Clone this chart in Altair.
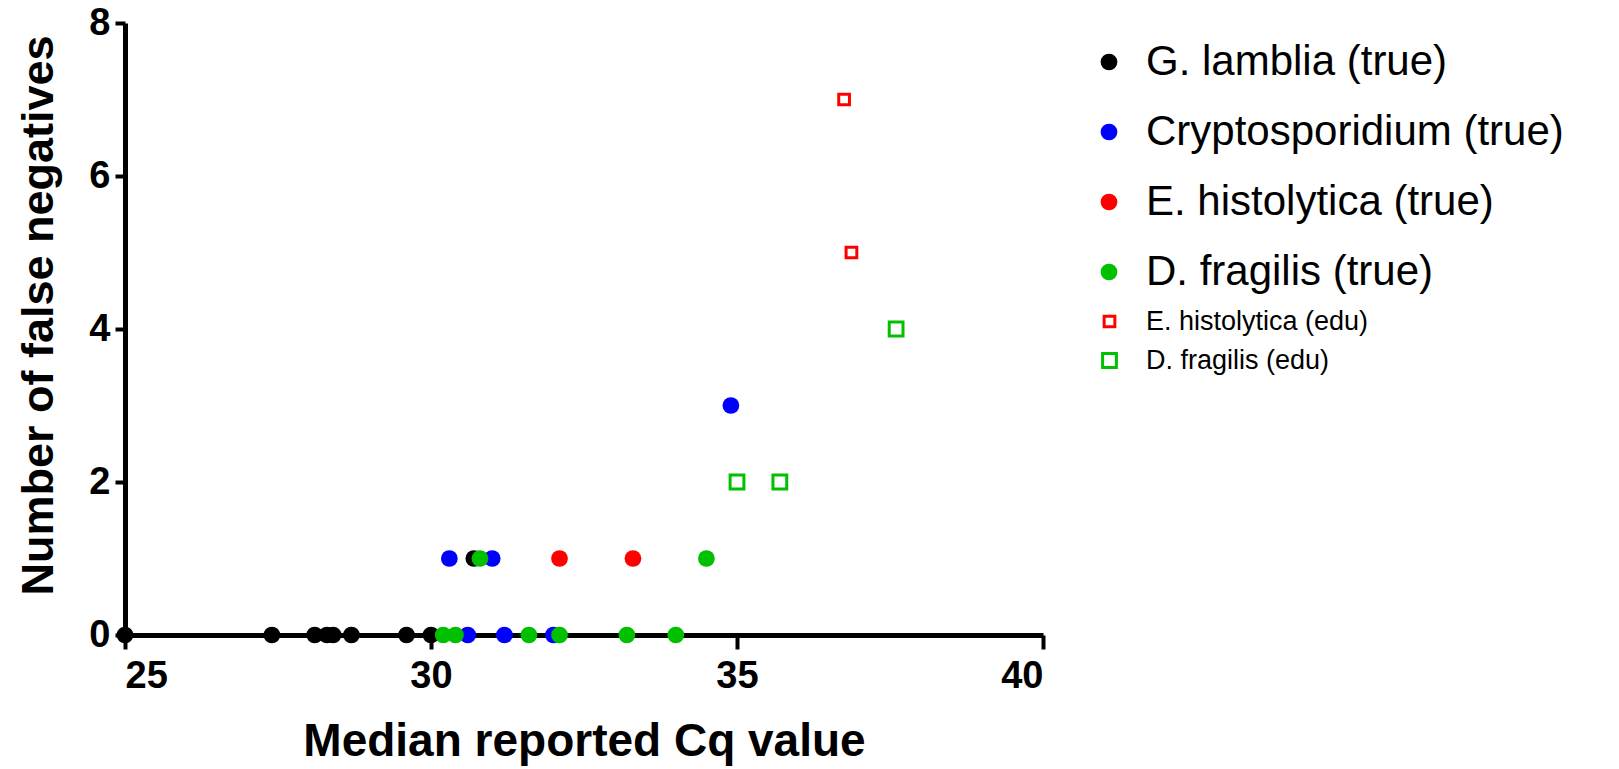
import altair as alt
import pandas as pd

# ---- data ----
true_series = ["G. lamblia (true)", "Cryptosporidium (true)", "E. histolytica (true)", "D. fragilis (true)"]
true_colors = ["#000000", "#0000FF", "#FF0000", "#00C000"]

glamblia_cq = [25.0, 27.4, 28.1, 28.3, 28.4, 28.7, 29.6, 30.0, 30.7]
glamblia_fn = [0, 0, 0, 0, 0, 0, 0, 0, 1]
crypto_cq = [30.6, 31.2, 32.0, 30.3, 31.0, 34.9]
crypto_fn = [0, 0, 0, 1, 1, 3]
ehist_cq = [32.1, 33.3]
ehist_fn = [1, 1]
dfrag_cq = [30.2, 30.4, 31.6, 32.1, 33.2, 34.0, 30.8, 34.5]
dfrag_fn = [0, 0, 0, 0, 0, 0, 1, 1]

edu_series = ["E. histolytica (edu)", "D. fragilis (edu)"]
edu_colors = ["#FF0000", "#00C000"]
ehist_edu_cq = [36.75, 36.87]
ehist_edu_fn = [7, 5]
dfrag_edu_cq = [35.0, 35.7, 37.6]
dfrag_edu_fn = [2, 2, 4]

x_ticks = [25, 30, 35, 40]
y_ticks = [0, 2, 4, 6, 8]

# ---- tables ----
rows = []
for name, xs, ys in zip(true_series,
                        [glamblia_cq, crypto_cq, ehist_cq, dfrag_cq],
                        [glamblia_fn, crypto_fn, ehist_fn, dfrag_fn]):
    rows += [{"series": name, "cq": a, "fn": b} for a, b in zip(xs, ys)]
df_true = pd.DataFrame(rows)

rows = []
for name, xs, ys in zip(edu_series, [ehist_edu_cq, dfrag_edu_cq], [ehist_edu_fn, dfrag_edu_fn]):
    rows += [{"series": name, "cq": a, "fn": b} for a, b in zip(xs, ys)]
df_edu = pd.DataFrame(rows)

FONT = "Liberation Sans"

x_enc = alt.X("cq:Q",
              scale=alt.Scale(domain=[25, 40], nice=False, zero=False),
              axis=alt.Axis(values=x_ticks, title="Median reported Cq value",
                            tickSize=14, labelPadding=8, titlePadding=24,
                            titleFontSize=46, format="d"))
y_enc = alt.Y("fn:Q",
              scale=alt.Scale(domain=[0, 8], nice=False),
              axis=alt.Axis(values=y_ticks, title="Number of false negatives",
                            tickSize=10, labelPadding=5, titlePadding=27,
                            titleFontSize=45, titleY=292, format="d"))

true_layer = alt.Chart(df_true).mark_point(
    filled=True, shape="circle", size=280, opacity=1
).encode(
    x=x_enc, y=y_enc,
    color=alt.Color("series:N",
                    scale=alt.Scale(domain=true_series, range=true_colors),
                    legend=alt.Legend(title=None, orient="none", legendX=963, legendY=18,
                                      labelFontSize=42, labelFont=FONT, labelColor="black",
                                      symbolType="circle", symbolSize=280, symbolOpacity=1,
                                      rowPadding=28, labelOffset=16, labelLimit=600))
)

edu_legend = alt.Legend(title=None, orient="none", legendX=971, legendY=285,
                        labelFontSize=27, labelFont=FONT, labelColor="black",
                        symbolType="square", symbolFillColor="white", symbolStrokeWidth=3,
                        rowPadding=11, labelOffset=23, labelLimit=600)

edu_layer = alt.Chart(df_edu).mark_point(
    filled=False, shape="square", strokeWidth=3, opacity=1
).encode(
    x=x_enc, y=y_enc,
    color=alt.Color("series:N", scale=alt.Scale(domain=edu_series, range=edu_colors),
                    legend=edu_legend),
    size=alt.Size("series:N", scale=alt.Scale(domain=edu_series, range=[115, 190]),
                  legend=edu_legend)
)

chart = alt.layer(true_layer, edu_layer).resolve_scale(
    color="independent", size="independent"
).properties(
    width=918, height=612,
    autosize=alt.AutoSizeParams(type="none"),
    padding={"left": 117, "top": 15, "right": 560, "bottom": 132},
).configure_view(stroke=None).configure_axis(
    domainColor="black", domainWidth=5, tickColor="black", tickWidth=4,
    grid=False, labelFont=FONT, labelFontWeight="bold", labelFontSize=38,
    labelColor="black", titleFont=FONT, titleFontWeight="bold",
    titleColor="black"
)

chart.save("out.html", embed_options={"renderer": "svg", "actions": False})
